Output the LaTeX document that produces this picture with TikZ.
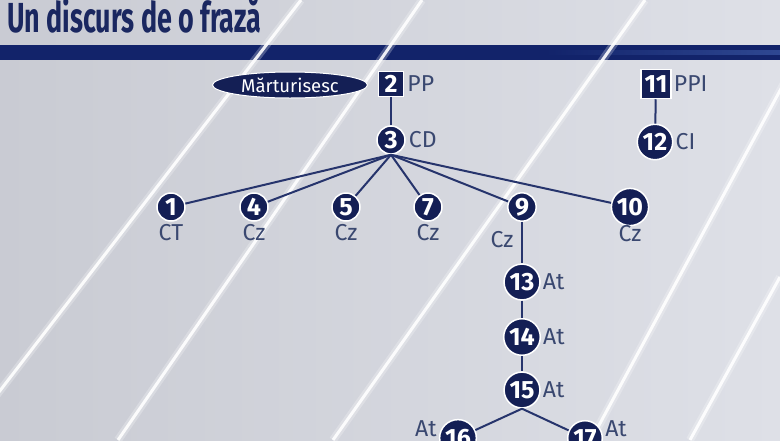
\documentclass[tikz,border=0pt]{standalone}
\usepackage{fontspec}
\setmainfont{Fira Sans}
\usetikzlibrary{positioning,shapes.geometric}
\definecolor{bleumarin}{HTML}{141F55}
\definecolor{linie}{HTML}{26346C}
\definecolor{eticheta}{HTML}{3A4870}
\definecolor{titlu}{HTML}{1A2760}
\definecolor{fundalA}{HTML}{C9CBD3}
\definecolor{fundalB}{HTML}{DEE0E7}
\definecolor{baraA}{HTML}{3A5CAE}
\definecolor{baraB}{HTML}{12236A}
\definecolor{baraC}{HTML}{4B6CBA}
\definecolor{baraD}{HTML}{030820}
\pgfdeclarehorizontalshading{bara}{15pt}{color(0pt)=(baraA); color(240pt)=(baraB); color(400pt)=(baraB); color(430pt)=(baraC); color(500pt)=(baraD); color(640pt)=(baraD); color(780pt)=(baraA)}

\begin{document}
\begin{tikzpicture}[x=1pt, y=-1pt,
    nr/.style={circle, draw=white, line width=1.5pt, fill=bleumarin, text=white, inner sep=2pt, minimum size=28pt, font=\fontsize{25}{25}\selectfont\bfseries},
    patrat/.style={rectangle, draw=white, line width=1.5pt, fill=bleumarin, text=white, inner sep=1pt, minimum height=25pt, minimum width=25pt, font=\fontsize{25}{25}\selectfont\bfseries},
    et/.style={text=eticheta, inner sep=1pt, font=\fontsize{23}{23}\selectfont},
    leg/.style={draw=linie, line width=2pt}
]
    \useasboundingbox (0,0) rectangle (780,440);
    % fundal si dungi
    \shade[left color=fundalA, right color=fundalB] (0,0) rectangle (780,440);
    \fill[baraB] (0,45) rectangle (780,60);
    \shade[shading=bara] (0,45) rectangle (780,60);
    \foreach \a/\b/\c/\d in {301/0/-38/440, 422/0/118/440, 645/0/333/440, 829/0/591/440, 780/277/690/440}{
        \draw[white, line width=8pt, opacity=0.25] (\a,\b) -- (\c,\d);
        \draw[white, line width=3pt, opacity=0.9] (\a,\b) -- (\c,\d);
    }
    \node[anchor=base west, text=titlu, inner sep=0pt, font=\fontsize{42}{42}\selectfont\bfseries] (titlu) at (7,32) {\scalebox{0.64}[1]{Un discurs de o frază}};

    \node[ellipse, fill=bleumarin, draw=white, line width=1pt, text=white, minimum width=155pt, minimum height=26pt, inner sep=0pt, font=\fontsize{18.5}{18.5}\selectfont] (mart) at (290,85) {Mărturisesc};
    \node[patrat] (n2) at (391,84) {2};
    \node[et, right=2pt of n2] (l2) {PP};
    \node[nr] (n3) at (391,140) {3};
    \node[et, right=2pt of n3] (l3) {CD};

    \node[patrat, minimum width=30pt, minimum height=29pt] (n11) at (656,84) {11};
    \node[et, right=1pt of n11] (l11) {PPI};
    \node[nr] (n12) at (655,142) {12};
    \node[et, right=1pt of n12] (l12) {CI};

    % nivelul al doilea
    \node[nr] (n1) at (171,207) {1};
    \node[nr] (n4) at (254,207) {4};
    \node[nr] (n5) at (346,207) {5};
    \node[nr] (n7) at (428,207) {7};
    \node[nr] (n9) at (522,207) {9};
    \node[nr] (n10) at (630,207) {10};
    \node[et, below=1pt of n1] (l1) {CT};
    \node[et, below=1pt of n4] (l4) {Cz};
    \node[et, below=1pt of n5] (l5) {Cz};
    \node[et, below=1pt of n7] (l7) {Cz};
    \node[et] (l9) at (502,240) {Cz};
    \node[et, below=-2pt of n10] (l10) {Cz};

    \node[nr] (n13) at (522,282) {13};
    \node[et, right=1pt of n13] (l13) {At};
    \node[nr] (n14) at (522,337) {14};
    \node[et, right=1pt of n14] (l14) {At};
    \node[nr] (n15) at (522,390) {15};
    \node[et, right=1pt of n15] (l15) {At};
    \node[nr] (n16) at (458,438) {16};
    \node[et, left=1pt of n16, yshift=9pt] (l16) {At};
    \node[nr] (n17) at (585,438) {17};
    \node[et, right=1pt of n17, yshift=9pt] (l17) {At};

    \draw[leg] (n2) -- (n3);
    \draw[leg] (n11) -- (n12);
    \foreach \c in {1,4,5,7,9,10}
        \draw[leg] (n3.south) -- (n\c);
    \draw[leg] (n9) -- (n13);
    \draw[leg] (n13) -- (n14);
    \draw[leg] (n14) -- (n15);
    \draw[leg] (n15.south) -- (n16);
    \draw[leg] (n15.south) -- (n17);
\end{tikzpicture}
\end{document}
